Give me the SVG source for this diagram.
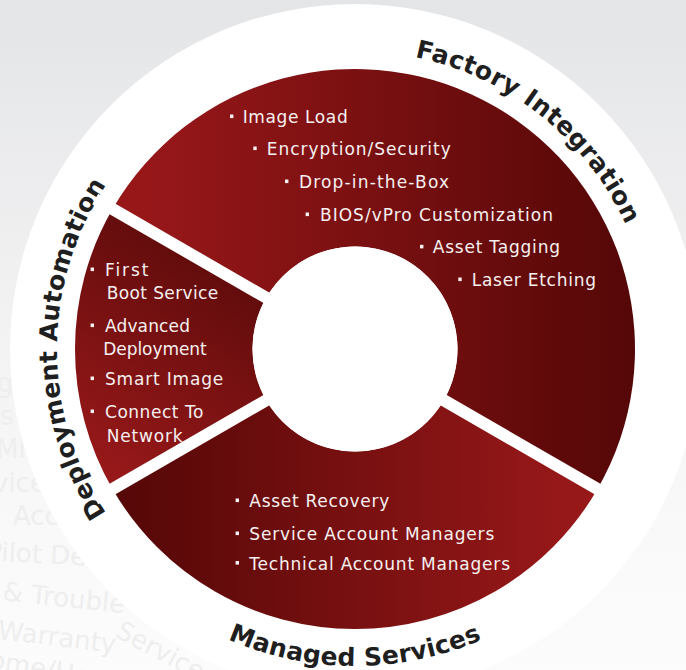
<svg xmlns="http://www.w3.org/2000/svg" xmlns:xlink="http://www.w3.org/1999/xlink" width="686" height="670" viewBox="0 0 686 670">
  <style>
    .item { font-family: "DejaVu Sans", "Liberation Sans", sans-serif; font-size: 17px; fill: #f6f0f0; }
    .title { font-family: "DejaVu Sans", "Liberation Sans", sans-serif; font-size: 25px; font-weight: bold; fill: #1f1f1f; }
    .ghost { font-family: "DejaVu Sans", "Liberation Sans", sans-serif; font-size: 26px; fill: #eeeeee; }
    .bullet { fill: #f6f0f0; }
    .gap { stroke: #ffffff; stroke-width: 12; fill: none; }
  </style>
  <defs>
    <linearGradient id="bg" x1="0" y1="0" x2="0" y2="670" gradientUnits="userSpaceOnUse">
      <stop offset="0" stop-color="#e4e5e7"/>
      <stop offset="0.4" stop-color="#f0f0f1"/>
      <stop offset="0.75" stop-color="#f8f8f8"/>
      <stop offset="1" stop-color="#fcfcfc"/>
    </linearGradient>
    <linearGradient id="gFactory" x1="150" y1="0" x2="635" y2="0" gradientUnits="userSpaceOnUse">
      <stop offset="0" stop-color="#971719"/>
      <stop offset="1" stop-color="#550707"/>
    </linearGradient>
    <linearGradient id="gDeploy" x1="255" y1="250" x2="115" y2="470" gradientUnits="userSpaceOnUse">
      <stop offset="0" stop-color="#5a0a0a"/>
      <stop offset="1" stop-color="#961819"/>
    </linearGradient>
    <linearGradient id="gManaged" x1="115" y1="0" x2="565" y2="0" gradientUnits="userSpaceOnUse">
      <stop offset="0" stop-color="#550707"/>
      <stop offset="1" stop-color="#971819"/>
    </linearGradient>
    <path id="arcFactory" d="M245.8,71.7 A298,298 0 0 1 649.7,393.0"/>
    <path id="arcDeploy" d="M206,607.1 A298,298 0 0 1 206,90.9"/>
    <path id="arcManaged" d="M80.5,507.5 A317,317 0 0 0 629.5,507.5"/>
  </defs>

  <rect x="0" y="0" width="686" height="670" fill="url(#bg)"/>

  <g id="background-ghost-text">
    <text class="ghost" x="-3" y="392">g</text>
    <text class="ghost" x="0" y="425">s</text>
    <text class="ghost" x="-4" y="458">Mi</text>
    <text class="ghost" x="-7" y="492">vice</text>
    <text class="ghost" x="13" y="525">Acc</text>
    <text class="ghost" x="-14" y="561" transform="rotate(3 0 561)">Pilot De</text>
    <text class="ghost" x="2" y="600" transform="rotate(6 0 600)">&amp; Trouble</text>
    <text class="ghost" x="-3" y="639" transform="rotate(7 0 639)">Warranty</text>
    <text class="ghost" x="114" y="636" transform="rotate(28 114 636)">Service</text>
    <text class="ghost" x="-12" y="670" transform="rotate(10 0 670)">ome/Home O</text>
  </g>

  <circle id="white-disc" cx="355" cy="349" r="345" fill="#ffffff"/>

  <g id="segment-factory">
    <path d="M112.5,209 A280,280 0 0 1 597.5,489 L443.8,400.25 A102.5,102.5 0 0 0 266.2,297.75 Z" fill="url(#gFactory)"/>
    <text class="title" letter-spacing="0.4"><textPath xlink:href="#arcFactory" href="#arcFactory" startOffset="50%" text-anchor="middle">Factory Integration</textPath></text>
    <rect class="bullet" x="230" y="114.5" width="3.4" height="3.6"/>
    <text class="item" x="242.7" y="123" textLength="105" lengthAdjust="spacing">Image Load</text>
    <rect class="bullet" x="253.3" y="146.5" width="3.4" height="3.6"/>
    <text class="item" x="266.7" y="155" textLength="184" lengthAdjust="spacing">Encryption/Security</text>
    <rect class="bullet" x="285" y="179.5" width="3.4" height="3.6"/>
    <text class="item" x="299" y="188" textLength="150" lengthAdjust="spacing">Drop-in-the-Box</text>
    <rect class="bullet" x="305.6" y="212.5" width="3.4" height="3.6"/>
    <text class="item" x="320" y="221" textLength="233" lengthAdjust="spacing">BIOS/vPro Customization</text>
    <rect class="bullet" x="420" y="244.8" width="3.4" height="3.6"/>
    <text class="item" x="432.7" y="253.3" textLength="127.3" lengthAdjust="spacing">Asset Tagging</text>
    <rect class="bullet" x="458.3" y="277.5" width="3.4" height="3.6"/>
    <text class="item" x="471.7" y="286" textLength="124.3" lengthAdjust="spacing">Laser Etching</text>
  </g>

  <g id="segment-deployment">
    <path d="M112.5,489 A280,280 0 0 1 112.5,209 L266.2,297.75 A102.5,102.5 0 0 0 266.2,400.25 Z" fill="url(#gDeploy)"/>
    <text class="title" letter-spacing="0.2"><textPath xlink:href="#arcDeploy" href="#arcDeploy" startOffset="50%" text-anchor="middle">Deployment Automation</textPath></text>
    <rect class="bullet" x="90.6" y="267.5" width="3.4" height="3.6"/>
    <text class="item" x="105" y="276" textLength="43.3" lengthAdjust="spacing">First</text>
    <text class="item" x="106.7" y="299" textLength="111.6" lengthAdjust="spacing">Boot Service</text>
    <rect class="bullet" x="90.6" y="323.5" width="3.4" height="3.6"/>
    <text class="item" x="105" y="332" textLength="85" lengthAdjust="spacing">Advanced</text>
    <text class="item" x="103.3" y="355" textLength="103.4" lengthAdjust="spacing">Deployment</text>
    <rect class="bullet" x="90.6" y="376.5" width="3.4" height="3.6"/>
    <text class="item" x="105" y="385" textLength="118.3" lengthAdjust="spacing">Smart Image</text>
    <rect class="bullet" x="90.6" y="409.5" width="3.4" height="3.6"/>
    <text class="item" x="105" y="418" textLength="98.3" lengthAdjust="spacing">Connect To</text>
    <text class="item" x="106.7" y="441.5" textLength="76" lengthAdjust="spacing">Network</text>
  </g>

  <g id="segment-managed">
    <path d="M597.5,489 A280,280 0 0 1 112.5,489 L266.2,400.25 A102.5,102.5 0 0 0 443.8,400.25 Z" fill="url(#gManaged)"/>
    <text class="title" letter-spacing="0.3"><textPath xlink:href="#arcManaged" href="#arcManaged" startOffset="50%" text-anchor="middle">Managed Services</textPath></text>
    <rect class="bullet" x="235.6" y="498.5" width="3.4" height="3.6"/>
    <text class="item" x="249.3" y="507" textLength="140" lengthAdjust="spacing">Asset Recovery</text>
    <rect class="bullet" x="235.6" y="531.5" width="3.4" height="3.6"/>
    <text class="item" x="249.3" y="540" textLength="245" lengthAdjust="spacing">Service Account Managers</text>
    <rect class="bullet" x="235.6" y="561" width="3.4" height="3.6"/>
    <text class="item" x="249.3" y="569.5" textLength="260.7" lengthAdjust="spacing">Technical Account Managers</text>
  </g>

  <g id="connectors">
    <line class="gap" x1="355" y1="349" x2="95.2" y2="199"/>
    <line class="gap" x1="355" y1="349" x2="95.2" y2="499"/>
    <line class="gap" x1="355" y1="349" x2="614.8" y2="499"/>
  </g>

  <circle id="hub" cx="355" cy="349" r="102.5" fill="#ffffff"/>
</svg>
